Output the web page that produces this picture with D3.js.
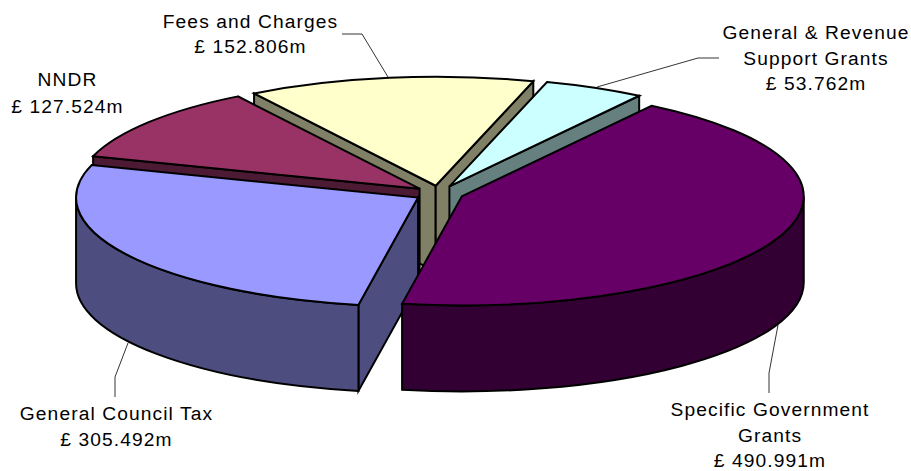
<!DOCTYPE html>
<html>
<head>
<meta charset="utf-8">
<style>
  html, body { margin: 0; background: #fff; }
  svg { display: block; }
  text { font-family: "Liberation Sans", Arial, sans-serif; font-size: 19.2px; letter-spacing: 1.1px; fill: #000; text-anchor: middle; }
</style>
<script src="https://cdn.jsdelivr.net/npm/d3@7"></script>
</head>
<body>
<svg id="chart" width="911" height="471"></svg>
<script>
// ---------- data ----------
const categories = ['Specific Government Grants', 'General Council Tax', 'NNDR', 'Fees and Charges', 'General & Revenue Support Grants'];
const values = [490.991, 305.492, 127.524, 152.806, 53.762];
const topColors = ['#660066', '#9999ff', '#993366', '#ffffcc', '#ccffff'];
const wallColors = ['#330033', '#4d4d80', '#4d1a33', '#808066', '#668080'];
// back slices first, the big front ones go on top
const drawOrder = [3, 4, 2, 1, 0];

// ---------- layout ----------
const cx = 439, cy = 193.5;
const rx = 342, ry = 109;
const depth = 86;
const explode = 24.5;
const startDeg = 33.7;

// label text lines + anchor + leader line, same order as categories
const labelLines = [
  ['Specific Government', 'Grants'],
  ['General Council Tax'],
  ['NNDR'],
  ['Fees and Charges'],
  ['General & Revenue', 'Support Grants']
];
const labelLayout = [
  { x: 770, ys: [416, 442, 467], leader: [[778, 325], [769, 373], [769, 393]] },
  { x: 116.5, ys: [420, 446], leader: [[128, 343], [115, 377], [115, 397]] },
  { x: 67.5, ys: [86, 113], leader: null },
  { x: 250.5, ys: [28, 53], leader: [[388, 77], [362, 34], [342, 34]] },
  { x: 816, ys: [39, 65, 90], leader: [[597, 87], [698, 58], [719, 58]] }
];

const svg = d3.select('#chart');
const fmt = d3.format('.3f');

// angle 0 = top of the ellipse, going clockwise on screen
const pie = d3.pie().sort(null)
  .startAngle(startDeg * Math.PI / 180)
  .endAngle((startDeg + 360) * Math.PI / 180);
const arcs = pie(values);

function point(c, a, dz = 0) {
  return [c[0] + rx * Math.sin(a), c[1] - ry * Math.cos(a) + dz];
}

function rimPath(c, a0, a1, dz, move) {
  const p0 = point(c, a0, dz), p1 = point(c, a1, dz);
  const large = Math.abs(a1 - a0) > Math.PI ? 1 : 0;
  const sweep = a1 > a0 ? 1 : 0;
  return `${move ? 'M' : 'L'}${p0}A${rx},${ry} 0 ${large} ${sweep} ${p1}`;
}

function drawSlice(d, i) {
  const mid = (d.startAngle + d.endAngle) / 2;
  const c = [cx + explode * Math.sin(mid), cy - explode * (ry / rx) * Math.cos(mid)];
  const g = svg.append('g').attr('class', 'slice')
    .attr('stroke', '#000').attr('stroke-width', 2).attr('stroke-linejoin', 'miter');

  // flat side walls, only if they face the viewer
  const sides = [
    { a: d.startAngle, normal: d.startAngle - Math.PI / 2 },
    { a: d.endAngle, normal: d.endAngle + Math.PI / 2 }
  ];
  sides.filter(s => Math.cos(s.normal) < 0).forEach(s => {
    const p = point(c, s.a);
    const poly = [c, p, [p[0], p[1] + depth], [c[0], c[1] + depth]];
    g.append('path').attr('d', 'M' + poly.join('L') + 'Z').attr('fill', wallColors[i]);
  });

  // curved wall: part of the rim on the front half (90..270 deg)
  const turns = Math.floor((d.startAngle + Math.PI / 2) / (2 * Math.PI));
  const front0 = Math.PI / 2 + turns * 2 * Math.PI;
  const a0 = Math.max(d.startAngle, front0);
  const a1 = Math.min(d.endAngle, front0 + Math.PI);
  if (a1 > a0) {
    g.append('path')
      .attr('d', rimPath(c, a0, a1, 0, true) + rimPath(c, a1, a0, depth, false) + 'Z')
      .attr('fill', wallColors[i]);
  }

  // top face
  g.append('path')
    .attr('d', `M${c}` + rimPath(c, d.startAngle, d.endAngle, 0, false) + 'Z')
    .attr('fill', topColors[i]);
}

drawOrder.forEach(i => drawSlice(arcs[i], i));

// ---------- labels ----------
categories.forEach((name, i) => {
  const lay = labelLayout[i];
  if (lay.leader) {
    svg.append('path')
      .attr('d', d3.line()(lay.leader))
      .attr('fill', 'none').attr('stroke', '#000').attr('stroke-width', 0.8);
  }
  const lines = labelLines[i].concat('£ ' + fmt(values[i]) + 'm');
  svg.append('text').selectAll('tspan')
    .data(lines)
    .join('tspan')
    .attr('x', lay.x)
    .attr('y', (_, k) => lay.ys[k])
    .text(t => t);
});
</script>
</body>
</html>
